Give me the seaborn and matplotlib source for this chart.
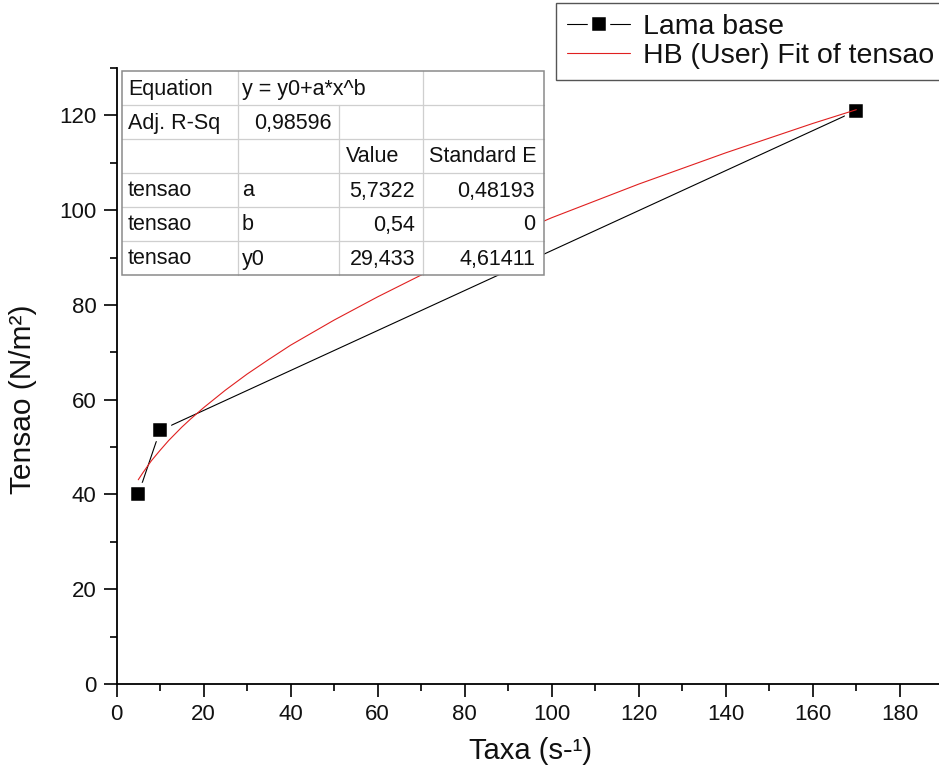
import numpy as np
import pandas as pd
import matplotlib
matplotlib.use("Agg")
import matplotlib.pyplot as plt
import seaborn as sns
from matplotlib.lines import Line2D
from matplotlib.patches import Rectangle
from matplotlib.ticker import MultipleLocator

# ---------------- data ----------------
taxa = [5, 10, 170]                 # shear rate (s-1)
tensao = [40.0, 53.5, 121.0]        # stress (N/m2)

# fitted curve (HB fit)
fit_x = [5, 6, 7, 8, 9, 10, 12, 15, 17, 20, 25, 30, 35, 40, 50, 60, 70, 80,
         100, 120, 140, 160, 170]
fit_y = [43.1, 44.5, 45.8, 47.1, 48.2, 49.3, 51.4, 54.2, 55.9, 58.3, 62.0,
         65.4, 68.5, 71.5, 76.8, 81.7, 86.3, 90.5, 98.4, 105.5, 112.1, 118.3, 121.2]

series_names = ["Lama base", "HB (User) Fit of tensao"]

# fit report table
eq_text = "y = y0+a*x^b"
adj_r2 = "0,98596"
param_rows = ["tensao", "tensao", "tensao"]
param_names = ["a", "b", "y0"]
param_values = ["5,7322", "0,54", "29,433"]
param_errors = ["0,48193", "0", "4,61411"]

x_ticks = [0, 20, 40, 60, 80, 100, 120, 140, 160, 180]
y_ticks = [0, 20, 40, 60, 80, 100, 120]

# ---------------- style ----------------
sns.set_style("ticks")
plt.rcParams["font.family"] = ["Liberation Sans", "DejaVu Sans"]

W, H = 939, 780
fig = plt.figure(figsize=(W / 100, H / 100), dpi=100)
ax = fig.add_axes([116.5 / W, 96 / H, 822.5 / W, 616 / H])

df_pts = pd.DataFrame({"x": taxa, "y": tensao})
df_fit = pd.DataFrame({"x": fit_x, "y": fit_y})

MS, MEW = 13.2, 3.2
sns.lineplot(data=df_pts, x="x", y="y", ax=ax, color="black", linewidth=0.8,
             marker="s", markersize=MS, markeredgecolor="white",
             markeredgewidth=MEW, markerfacecolor="black", zorder=2,
             legend=False, sort=True)
sns.lineplot(data=df_fit, x="x", y="y", ax=ax, color="#e02020", linewidth=0.8,
             zorder=3, legend=False, sort=True)

ax.set_xlim(0, 189)
ax.set_ylim(0, 130)
ax.set_xticks(x_ticks)
ax.set_yticks(y_ticks)
ax.xaxis.set_minor_locator(MultipleLocator(10))
ax.yaxis.set_minor_locator(MultipleLocator(10))
for side in ["top", "right"]:
    ax.spines[side].set_visible(False)
for side in ["left", "bottom"]:
    ax.spines[side].set_linewidth(1.3)
    ax.spines[side].set_color("black")
ax.tick_params(which="major", direction="out", length=9.4, width=1.2,
               labelsize=16, color="black", labelcolor="#111111")
ax.tick_params(which="minor", direction="out", length=4.8, width=1.2, color="black")
ax.tick_params(axis="y", which="major", pad=5)
ax.tick_params(axis="x", which="major", pad=5)

ax.set_xlabel("Taxa (s-\u00b9)", fontsize=21, color="#111111")
ax.set_ylabel("Tensao (N/m\u00b2)", fontsize=21.5, color="#111111")
ax.xaxis.set_label_coords(0.503, -0.086)
ax.yaxis.set_label_coords(-0.097, 0.462)

# ---------------- legend ----------------
h_pts = Line2D([], [], color="black", linewidth=0.8, marker="s", markersize=MS,
               markeredgecolor="white", markeredgewidth=MEW, markerfacecolor="black")
h_fit = Line2D([], [], color="#e02020", linewidth=0.8)
leg = fig.legend([h_pts, h_fit], series_names, loc="upper left",
                 bbox_to_anchor=(556 / W, 1 - 3 / H), bbox_transform=fig.transFigure,
                 fontsize=20.5, frameon=True, fancybox=False, shadow=False,
                 framealpha=1, edgecolor="#555555", borderaxespad=0,
                 borderpad=0.4, handlelength=2.2, handletextpad=0.45,
                 labelspacing=0.08)
leg.get_frame().set_linewidth(1.0)
for t in leg.get_texts():
    t.set_color("#111111")

# ---------------- fit table (overlay in pixel coords) ----------------
ov = fig.add_axes([0, 0, 1, 1], zorder=5)
ov.set_xlim(0, W)
ov.set_ylim(H, 0)
ov.axis("off")

tx0, tx1 = 122, 544
ty0, ty1 = 71, 275
cols = [122, 238, 339, 423, 544]
rh = (ty1 - ty0) / 6.0
inner = "#cfcfcf"
outer = "#8a8a8a"
ov.add_patch(Rectangle((tx0, ty0), tx1 - tx0, ty1 - ty0, facecolor="white",
                       edgecolor="none", zorder=1))
for r in range(1, 6):
    yy = ty0 + r * rh
    ov.plot([tx0, tx1], [yy, yy], color=inner, lw=0.9, zorder=2)
ov.plot([cols[1], cols[1]], [ty0, ty1], color=inner, lw=0.9, zorder=2)
ov.plot([cols[3], cols[3]], [ty0, ty1], color=inner, lw=0.9, zorder=2)
ov.plot([cols[2], cols[2]], [ty0 + rh, ty1], color=inner, lw=0.9, zorder=2)
ov.add_patch(Rectangle((tx0, ty0), tx1 - tx0, ty1 - ty0, facecolor="none",
                       edgecolor=outer, lw=1.1, zorder=3))

fs = 15.5
tc = "#111111"
def row_y(r):
    return ty0 + (r + 0.5) * rh + 1

ov.text(cols[0] + 6, row_y(0), "Equation", fontsize=fs, color=tc, va="center", ha="left", zorder=4)
ov.text(cols[1] + 4, row_y(0), eq_text, fontsize=fs, color=tc, va="center", ha="left", zorder=4)
ov.text(cols[0] + 6, row_y(1), "Adj. R-Sq", fontsize=fs, color=tc, va="center", ha="left", zorder=4)
ov.text(cols[2] - 7, row_y(1), adj_r2, fontsize=fs, color=tc, va="center", ha="right", zorder=4)
ov.text(cols[2] + 7, row_y(2), "Value", fontsize=fs, color=tc, va="center", ha="left", zorder=4)
ov.text(cols[3] + 6, row_y(2), "Standard E", fontsize=fs, color=tc, va="center", ha="left", zorder=4)
for i in range(3):
    r = 3 + i
    ov.text(cols[0] + 6, row_y(r), param_rows[i], fontsize=fs, color=tc, va="center", ha="left", zorder=4)
    ov.text(cols[1] + 4, row_y(r), param_names[i], fontsize=fs, color=tc, va="center", ha="left", zorder=4)
    ov.text(cols[3] - 8, row_y(r), param_values[i], fontsize=fs, color=tc, va="center", ha="right", zorder=4)
    ov.text(cols[4] - 9, row_y(r), param_errors[i], fontsize=fs, color=tc, va="center", ha="right", zorder=4)

fig.savefig("out.png", dpi=100)
